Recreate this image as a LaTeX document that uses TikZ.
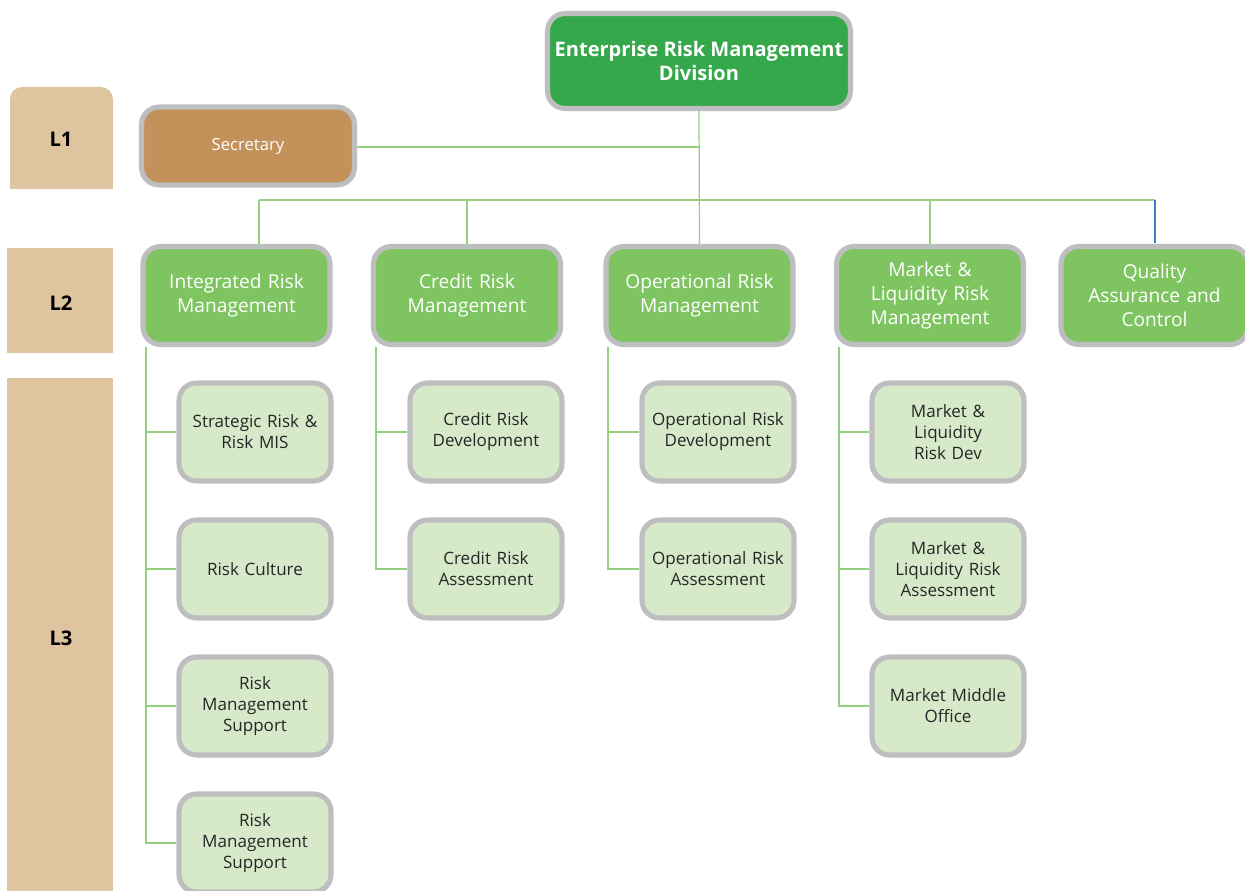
\documentclass[tikz,border=0pt]{standalone}
\usepackage{fontspec}
\setmainfont{Open Sans}
\definecolor{topgreen}{HTML}{34A84A}
\definecolor{midgreen}{HTML}{7EC461}
\definecolor{palegreen}{HTML}{D6E9C9}
\definecolor{secbrown}{HTML}{C3915A}
\definecolor{tan}{HTML}{DFC4A0}
\definecolor{rim}{HTML}{BEBEC0}
\definecolor{wire}{HTML}{93D07F}
\definecolor{wireblue}{HTML}{3B7FC4}
\tikzset{
  unit box/.style={draw=rim, line width=2.9pt, rounded corners=10pt, align=center, inner sep=2pt},
  headbox/.style={unit box, fill=topgreen, text=white, font=\fontsize{11.4}{13.8}\selectfont\bfseries,
    minimum width=6.06cm, minimum height=1.9cm},
  secbox/.style={unit box, fill=secbrown, text=white, font=\fontsize{9.5}{12}\selectfont,
    minimum width=4.26cm, minimum height=1.56cm},
  deptbox/.style={unit box, fill=midgreen, text=white, font=\fontsize{10.9}{13.7}\selectfont,
    minimum width=3.72cm, minimum height=1.96cm, text width=3.6cm},
  teambox/.style={unit box, fill=palegreen, text=black!85, font=\fontsize{9.7}{12}\selectfont,
    minimum width=2.98cm, minimum height=1.96cm, text width=2.9cm},
  levelband/.style={fill=tan, draw=none},
  leveltext/.style={font=\fontsize{11.5}{13}\selectfont\bfseries, text=black},
  wireline/.style={draw=wire, line width=0.7pt},
}
\begin{document}
\begin{tikzpicture}[x=0.02cm, y=-0.02cm]
\useasboundingbox (0,0) rectangle (1245,891);
\clip (0,0) rectangle (1245,891);

% level bands
\fill[levelband, rounded corners=7pt] (10,189) -- (10,87) -- (113,87) -- (113,189) [sharp corners] -- cycle;
\fill[levelband] (10,189) rectangle (113,150);
\fill[levelband] (7,248) rectangle (113,353);
\fill[levelband] (7,378) rectangle (113,895);
\node[leveltext] (lvA) at (61,139) {L1};
\node[leveltext] (lvB) at (61,303) {L2};
\node[leveltext] (lvC) at (61,638) {L3};

% boxes
\node[headbox] (erm) at (699,61) {Enterprise Risk Management\\Division};
\node[secbox] (sec) at (248,146) {Secretary};

\node[deptbox] (irm) at (236.5,295.5) {Integrated Risk\\Management};
\node[deptbox] (crm) at (467,295.5) {Credit Risk\\Management};
\node[deptbox] (orm) at (699.5,295.5) {Operational Risk\\Management};
\node[deptbox] (mlr) at (930,295.5) {Market \&\\Liquidity Risk\\Management};
\node[deptbox] (qac) at (1154.5,295.5) {Quality\\Assurance and\\Control};

\node[teambox] (irmA) at (255,432) {Strategic Risk \&\\Risk MIS};
\node[teambox] (irmB) at (255,569) {Risk Culture};
\node[teambox] (irmC) at (255,706) {Risk\\Management\\Support};
\node[teambox] (irmD) at (255,843) {Risk\\Management\\Support};

\node[teambox] (crmA) at (486,432) {Credit Risk\\Development};
\node[teambox] (crmB) at (486,569) {Credit Risk\\Assessment};

\node[teambox] (ormA) at (718,432) {Operational Risk\\Development};
\node[teambox] (ormB) at (718,569) {Operational Risk\\Assessment};

\node[teambox] (mlrA) at (948,432) {Market \&\\Liquidity\\Risk Dev};
\node[teambox] (mlrB) at (948,569) {Market \&\\Liquidity Risk\\Assessment};
\node[teambox] (mlrC) at (948,706) {Market Middle\\Office};

% junctions of the top tree
\coordinate (secjoin) at (699,147);
\coordinate (busL) at (259,200);
\coordinate (busR) at (1155,200);
\coordinate (busQ) at (1155,243);

\draw[wireline] (erm.south) -- (orm.north);
\draw[wireline] (sec.east |- secjoin) -- (secjoin);
\draw[wireline] (busL) -- (busR);
\draw[wireline] (busL) -- (busL |- irm.north);
\draw[wireline] (crm.north |- busL) -- (crm.north);
\draw[wireline] (mlr.north |- busL) -- (mlr.north);
\draw[draw=wireblue, line width=0.7pt] (busR) -- (busQ);

% trunks from each department to its teams
\coordinate (irmT) at (146,347);
\coordinate (crmT) at (376,347);
\coordinate (ormT) at (608,347);
\coordinate (mlrT) at (839,347);
\foreach \t in {irmA,irmB,irmC,irmD} \draw[wireline] (irmT) |- (\t.west);
\foreach \t in {crmA,crmB} \draw[wireline] (crmT) |- (\t.west);
\foreach \t in {ormA,ormB} \draw[wireline] (ormT) |- (\t.west);
\foreach \t in {mlrA,mlrB,mlrC} \draw[wireline] (mlrT) |- (\t.west);
\end{tikzpicture}
\end{document}
